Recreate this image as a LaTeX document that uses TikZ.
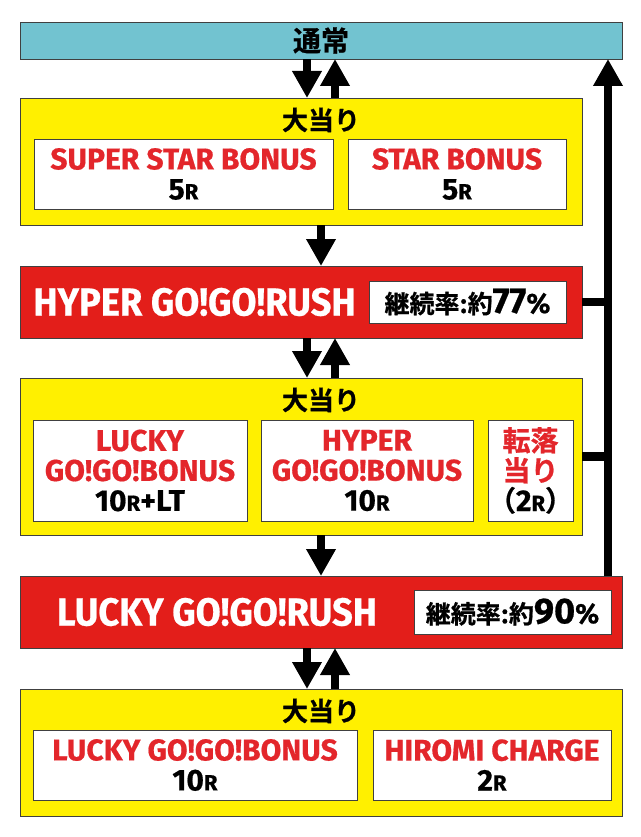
\documentclass[tikz,border=0pt]{standalone}
\usepackage{fontspec}
\setmainfont{Fira Sans}[BoldFeatures={FakeBold=0.6}]
\newfontfamily\rushfont{Fira Sans}[FakeStretch=0.93, BoldFeatures={FakeBold=0.6}]
\newfontfamily\jpfont{Noto Sans CJK JP Bold}[FakeBold=0.8]
\usetikzlibrary{calc,positioning,arrows.meta}
\definecolor{tsujoblue}{HTML}{72C3D0}
\definecolor{oayellow}{HTML}{FFF000}
\definecolor{rushred}{HTML}{E31E1A}
\definecolor{bonusred}{HTML}{E3262B}
\newcommand{\rnd}{{\fontsize{22}{22}\selectfont R}}
\newcommand{\bname}[1]{\textcolor{bonusred}{#1}}
\newcommand{\jpsize}[1]{\jpfont\fontsize{#1}{#1}\selectfont}
\newcommand{\ltsize}[1]{\rmfamily\bfseries\fontsize{#1}{#1}\selectfont}

\begin{document}
\begin{tikzpicture}
		[node distance=40pt,
		box/.style={draw=black!75, line width=0.8pt, outer sep=0pt, inner sep=0pt},
		stage/.style={box, minimum width=562pt},
		bonus/.style={box, fill=white, align=center, minimum height=70pt, font=\bfseries\fontsize{30}{30}\selectfont},
		rate/.style={box, fill=white, minimum width=197pt},
		rushtext/.style={text=white, font=\rushfont\bfseries\fontsize{39}{39}\selectfont},
		oatext/.style={font=\jpsize{26}},
		fat/.style={line width=8.5pt},
		fatarrow/.style={fat, -{Triangle[length=27pt,width=28pt]}}]
		\useasboundingbox (0,0) rectangle (640pt,-837pt);
		\coordinate (mid) at (321pt,0);
		\coordinate (dn) at (307pt,0);
		\coordinate (up) at (335pt,0);
		\coordinate (back) at (608pt,0);
		
		\node[stage, fill=tsujoblue, minimum width=602pt, minimum height=37pt, anchor=north west, font=\jpsize{28}] (tsujo) at (20pt,-22pt) {通常};
		
		% first jackpot
		\node[stage, fill=oayellow, minimum height=127pt, below=39pt of tsujo.south west, anchor=north west] (oa1) {};
		\node[oatext] (oa1t) at ($(oa1.north -| mid)+(0,-22pt)$) {大当り};
		\node[bonus, minimum width=299pt, below right=41pt and 14pt of oa1.north west] (ssb) {\bname{SUPER STAR BONUS}\\5\rnd};
		\node[bonus, minimum width=218pt, right=15pt of ssb] (sb) {\bname{STAR BONUS}\\5\rnd};
		
		% hyper rush
		\node[stage, fill=rushred, minimum height=72pt, below=41pt of oa1.south west, anchor=north west] (hrush) {};
		\node[rate, minimum height=42pt, left=16pt of hrush.east, anchor=east] (hrate) {\jpsize{25}継続率:約\ltsize{36}77{\fontsize{28}{28}\selectfont\%}};
		\node[rushtext] (htext) at ($(hrush.west)!.5!(hrate.west)$) {HYPER GO!GO!RUSH};
		
		% second jackpot
		\node[stage, fill=oayellow, minimum height=157pt, below=40pt of hrush.south west, anchor=north west] (oa2) {};
		\node[oatext] (oa2t) at ($(oa2.north -| mid)+(0,-22pt)$) {大当り};
		\node[bonus, minimum width=214pt, minimum height=101pt, below right=42pt and 13pt of oa2.north west] (lgb) {\bname{LUCKY}\\\bname{GO!GO!BONUS}\\10\rnd+LT};
		\node[bonus, minimum width=212pt, minimum height=101pt, right=14pt of lgb] (hgb) {\bname{HYPER}\\\bname{GO!GO!BONUS}\\10\rnd};
		\node[bonus, minimum width=77pt, minimum height=101pt, right=15pt of hgb, font=\jpfont\fontsize{28}{30}\selectfont] (tenraku) {\bname{転落}\\\bname{当り}\\（{\ltsize{30}2\rnd}）};
		
		% lucky rush
		\node[stage, fill=rushred, minimum width=602pt, minimum height=72pt, below=41pt of oa2.south west, anchor=north west] (lrush) {};
		\node[rate, minimum height=44pt, left=11pt of lrush.east, anchor=east] (lrate) {\jpsize{25}継続率:約\ltsize{36}90{\fontsize{28}{28}\selectfont\%}};
		\node[rushtext] (ltext) at ($(lrush.west)!.5!(lrate.west)$) {LUCKY GO!GO!RUSH};
		
		% third jackpot
		\node[stage, fill=oayellow, minimum width=602pt, minimum height=127pt, below=41pt of lrush.south west, anchor=north west] (oa3) {};
		\node[oatext] (oa3t) at ($(oa3.north -| mid)+(0,-22pt)$) {大当り};
		\node[bonus, minimum width=324pt, below right=41pt and 13pt of oa3.north west] (lgb2) {\bname{LUCKY GO!GO!BONUS}\\10\rnd};
		\node[bonus, minimum width=238pt, right=16pt of lgb2] (hiromi) {\bname{HIROMI CHARGE}\\2\rnd};
		
		\draw[fatarrow] (tsujo.south -| dn) -- (oa1.north -| dn);
		\draw[fatarrow] (oa1.north -| up) -- (tsujo.south -| up);
		\draw[fatarrow] (oa1.south -| mid) -- (hrush.north -| mid);
		\draw[fatarrow] (hrush.south -| dn) -- (oa2.north -| dn);
		\draw[fatarrow] (oa2.north -| up) -- (hrush.south -| up);
		\draw[fatarrow] (oa2.south -| mid) -- (lrush.north -| mid);
		\draw[fatarrow] (lrush.south -| dn) -- (oa3.north -| dn);
		\draw[fatarrow] (oa3.north -| up) -- (lrush.south -| up);
		% way back
		\draw[fatarrow] (lrush.north -| back) -- (tsujo.south -| back);
		\draw[fat] (hrush.east) -- (hrush.east -| back);
		\draw[fat] (oa2.east) -- (oa2.east -| back);
\end{tikzpicture}
\end{document}
